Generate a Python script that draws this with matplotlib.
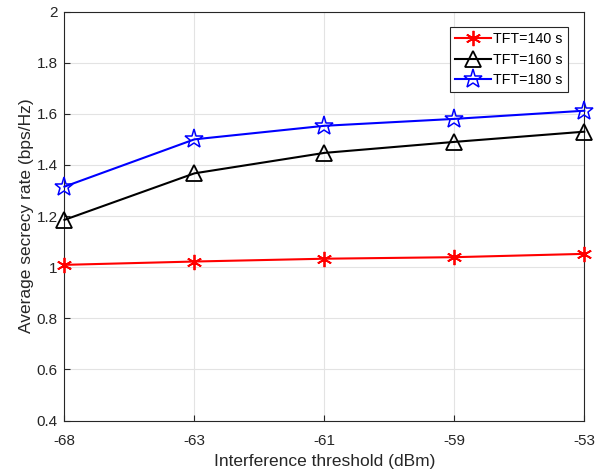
import matplotlib
matplotlib.use("Agg")
import matplotlib.pyplot as plt

plt.rcParams['font.family'] = ['Liberation Sans', 'DejaVu Sans']

x_labels = ['-68', '-63', '-61', '-59', '-53']
tft140 = [1.009, 1.022, 1.033, 1.039, 1.052]
tft160 = [1.185, 1.367, 1.447, 1.49, 1.53]
tft180 = [1.315, 1.50, 1.553, 1.58, 1.612]
y_ticks = [0.4, 0.6, 0.8, 1.0, 1.2, 1.4, 1.6, 1.8, 2.0]
y_tick_labels = ['0.4', '0.6', '0.8', '1', '1.2', '1.4', '1.6', '1.8', '2']

fig = plt.figure(figsize=(6.08, 4.75), dpi=100)
ax = fig.add_axes([0.106, 0.1147, 0.855, 0.861])
xs = list(range(len(x_labels)))

ax.plot(xs, tft140, color='red', marker=(6, 2, 0), markersize=11, markeredgewidth=1.3,
        linewidth=1.5, label='TFT=140 s', clip_on=False, zorder=3)
ax.plot(xs, tft160, color='black', marker='^', markersize=12, markerfacecolor='none',
        markeredgewidth=1.3, linewidth=1.5, label='TFT=160 s', clip_on=False, zorder=3)
ax.plot(xs, tft180, color='blue', marker='*', markersize=14, markerfacecolor='none',
        markeredgewidth=1.1, linewidth=1.5, label='TFT=180 s', clip_on=False, zorder=3)

ax.set_xlim(0, len(x_labels) - 1)
ax.set_ylim(0.4, 2.0)
ax.set_xticks(xs)
ax.set_xticklabels(x_labels)
ax.set_yticks(y_ticks)
ax.set_yticklabels(y_tick_labels)
ax.grid(True, color='#e3e3e3', linewidth=0.8)
ax.set_axisbelow(True)
ax.tick_params(direction='in', labelsize=11, colors='#262626', length=4)
ax.tick_params(axis='x', pad=10)
ax.tick_params(axis='y', pad=5)
for s in ax.spines.values():
    s.set_color('#262626')
    s.set_linewidth(0.8)
ax.set_xlabel('Interference threshold (dBm)', fontsize=12.5, color='#262626', labelpad=4)
ax.set_ylabel('Average secrecy rate (bps/Hz)', fontsize=12.5, color='#262626', labelpad=2)

leg = ax.legend(loc='upper right', bbox_to_anchor=(0.9685, 0.9615), fontsize=10.3,
                fancybox=False, framealpha=1, edgecolor='#262626',
                handlelength=2.5, borderpad=0.35, labelspacing=0.45, handletextpad=0.2,
                borderaxespad=0.0)
leg.get_frame().set_linewidth(0.8)

fig.savefig('out.png', dpi=100)
